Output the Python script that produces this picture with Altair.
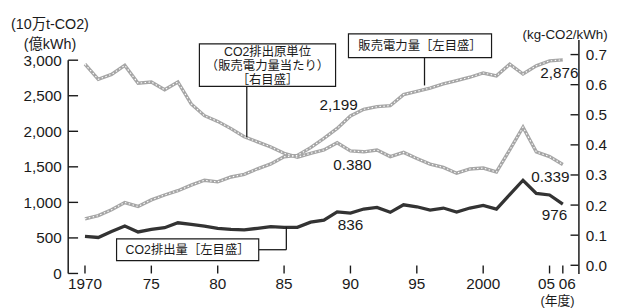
import altair as alt
import pandas as pd

# ---------------- data ----------------
years = list(range(1970, 2007))
# 販売電力量 (億kWh) – left axis
sales = [769, 814, 897, 998, 943, 1035, 1104, 1164, 1242, 1311,
         1288, 1357, 1394, 1472, 1541, 1642, 1660, 1770, 1900, 2040,
         2215, 2309, 2346, 2360, 2516, 2562, 2608, 2668, 2714, 2760,
         2820, 2780, 2944, 2806, 2921, 2990, 3005]
# CO2排出原単位 (kg-CO2/kWh) – right axis
intensity = [0.668, 0.618, 0.634, 0.664, 0.605, 0.609, 0.583, 0.609, 0.536, 0.497,
             0.478, 0.454, 0.427, 0.410, 0.393, 0.372, 0.359, 0.372, 0.383, 0.407,
             0.380, 0.377, 0.383, 0.361, 0.375, 0.355, 0.336, 0.325, 0.306, 0.320,
             0.323, 0.310, 0.383, 0.459, 0.377, 0.361, 0.335]
# CO2排出量 (10万t-CO2) – left axis
co2 = [520, 506, 590, 667, 584, 621, 644, 713, 690, 667,
       635, 621, 612, 635, 658, 649, 649, 722, 750, 865,
       850, 906, 929, 860, 966, 938, 892, 920, 865, 920,
       956, 906, 1110, 1311, 1127, 1104, 976]

left_ticks = [0, 500, 1000, 1500, 2000, 2500, 3000]
right_ticks = [0.0, 0.1, 0.2, 0.3, 0.4, 0.5, 0.6, 0.7]
x_ticks = [1970, 1975, 1980, 1985, 1990, 1995, 2000, 2005, 2006]
x_tick_labels = ["1970", "75", "80", "85", "90", "95", "2000", "05", "06"]
x_label_shift = [0, 0, 0, 0, 0, 0, 0, -3, 4.5]
x_unit_text = ["(年度)"]
x_unit_year = [2005.6]

# value callouts
left_lab_text = ["2,199", "2,876", "836", "976"]
left_lab_year = [1990, 2006, 1990, 2006]
left_lab_val = [2199, 2876, 836, 976]
right_lab_text = ["0.380", "0.339"]
right_lab_year = [1990, 2006]
right_lab_val = [0.380, 0.339]

# annotation boxes (in data space: years / left-axis units)
box_x1 = [1978.62, 1989.85, 1972.38]
box_x2 = [1988.88, 2000.63, 1983.09]
box_y1 = [3229, 3369, 487]
box_y2 = [2631, 3035, 181]
box_text = ["CO2排出原単位", "（販売電力量当たり）", "［右目盛］", "販売電力量［左目盛］", "CO2排出量［左目盛］"]
box_text_x = [1983.75, 1983.75, 1983.75, 1995.24, 1977.73]
box_text_y = [3116, 2922, 2727, 3202, 334]
lead_x1 = [1982.19, 1995.58, 1983.09, 1985.17]
lead_x2 = [1982.19, 1995.58, 1985.17, 1985.17]
lead_y1 = [2631, 3035, 334, 334]
lead_y2 = [1921, 2645, 334, 654]

# ---------------- tables ----------------
df = pd.DataFrame({"year": years, "sales": sales, "intensity": intensity, "co2": co2})
lt = pd.DataFrame({"v": left_ticks})
rt = pd.DataFrame({"v": right_ticks})
xt = pd.DataFrame({"year": x_ticks, "lab": x_tick_labels, "shift": x_label_shift})
xu = pd.DataFrame({"year": x_unit_year, "t": x_unit_text})
llab = pd.DataFrame({"t": left_lab_text, "year": left_lab_year, "v": left_lab_val})
rlab = pd.DataFrame({"t": right_lab_text, "year": right_lab_year, "v": right_lab_val})
boxes = pd.DataFrame({"x1": box_x1, "x2": box_x2, "y1": box_y1, "y2": box_y2})
btext = pd.DataFrame({"t": box_text, "x": box_text_x, "y": box_text_y})
leads = pd.DataFrame({"x1": lead_x1, "x2": lead_x2, "y1": lead_y1, "y2": lead_y2})
laxis = pd.DataFrame({"a": [3000], "b": [0]})

NUM = "Liberation Sans, Arial, sans-serif"
JP = "Liberation Sans, Noto Sans CJK JP, sans-serif"
INK = "#1a1a1a"
NUMSIZE = 15.5

W, H = 517, 237
xs = alt.Scale(domain=[1968.736, 2007.175], nice=False, zero=False)
ls = alt.Scale(domain=[0, 3290], nice=False, zero=False)
rs = alt.Scale(domain=[-0.0272, 0.7498], nice=False, zero=False)

x_axis = alt.Axis(
    values=x_ticks, orient="bottom", tickSize=0, domain=True, domainColor=INK, domainWidth=1.5,
    grid=False, labels=False, title=None,
)
left_axis = alt.Axis(
    values=left_ticks, orient="left", tickSize=0, domain=False, grid=False,
    labelExpr="datum.value >= 1000 ? (floor(datum.value / 1000) + ',' + substring('' + datum.value, 1)) : ('' + datum.value)",
    labelPadding=7, labelFont=NUM, labelFontSize=NUMSIZE, labelColor=INK,
    title=["(10万t-CO2)", "(億kWh)"], titleFont=JP, titleFontSize=14.5, titleFontWeight="normal",
    titleColor=INK, titleAngle=0, titleX=-19, titleY=-22, titleAlign="center",
    titleBaseline="top", titleLineHeight=20,
)
right_axis = alt.Axis(
    values=right_ticks, orient="right", format=".1f", tickSize=0, domain=True,
    domainColor=INK, domainWidth=1.5, grid=False,
    labelPadding=7, labelFont=NUM, labelFontSize=NUMSIZE, labelColor=INK,
    title="(kg-CO2/kWh)", titleFont=JP, titleFontSize=13.5, titleFontWeight="normal",
    titleColor=INK, titleAngle=0, titleX=-14, titleY=-5, titleAlign="center",
    titleBaseline="middle",
)


def X(field="year"):
    return alt.X(f"{field}:Q", scale=xs, axis=None)


base = alt.Chart(df)

sales_line = base.mark_line(color="#a6a6a6", strokeWidth=3.4).encode(
    x=X(), y=alt.Y("sales:Q", scale=ls, axis=left_axis),
)
int_line = base.mark_line(color="#a6a6a6", strokeWidth=3.4).encode(
    x=X(), y=alt.Y("intensity:Q", scale=rs, axis=right_axis),
)
sales_tex = base.mark_line(color="white", strokeWidth=1.1, strokeDash=[1.5, 2.5]).encode(
    x=X(), y=alt.Y("sales:Q", scale=ls, axis=None),
)
int_tex = base.mark_line(color="white", strokeWidth=1.1, strokeDash=[1.5, 2.5]).encode(
    x=X(), y=alt.Y("intensity:Q", scale=rs, axis=None),
)
co2_line = base.mark_line(color="#333333", strokeWidth=3.3).encode(
    x=X(), y=alt.Y("co2:Q", scale=ls, axis=None),
)

left_tick_marks = alt.Chart(lt).mark_rule(color=INK, strokeWidth=1.4).encode(
    x=alt.value(0), x2=alt.value(10), y=alt.Y("v:Q", scale=ls, axis=None),
)
right_tick_marks = alt.Chart(rt).mark_rule(color=INK, strokeWidth=1.4).encode(
    x=alt.value(W - 8), x2=alt.value(W), y=alt.Y("v:Q", scale=rs, axis=None),
)
x_tick_marks = alt.Chart(xt).mark_rule(color=INK, strokeWidth=1.4).encode(
    x=alt.X("year:Q", scale=xs, axis=x_axis), y=alt.value(H - 8), y2=alt.value(H),
)
x_tick_text = alt.Chart(xt).transform_calculate(
    xp="datum.year + datum.shift / 13.45"
).mark_text(font=NUM, fontSize=NUMSIZE, color=INK, baseline="top").encode(
    x=alt.X("xp:Q", scale=xs, axis=None), y=alt.value(H + 4), text="lab:N",
)
x_unit = alt.Chart(xu).mark_text(font=JP, fontSize=13, color=INK, baseline="middle").encode(
    x=alt.X("year:Q", scale=xs, axis=None), y=alt.value(H + 28), text="t:N",
)
left_axis_line = alt.Chart(laxis).mark_rule(color=INK, strokeWidth=1.5).encode(
    x=alt.value(0), y=alt.Y("a:Q", scale=ls, axis=None), y2="b:Q",
)

box_marks = alt.Chart(boxes).mark_rect(fill="white", stroke=INK, strokeWidth=1.2).encode(
    x=alt.X("x1:Q", scale=xs, axis=None), x2="x2:Q",
    y=alt.Y("y1:Q", scale=ls, axis=None), y2="y2:Q",
)
box_texts = alt.Chart(btext).mark_text(font=JP, fontSize=12.5, color=INK).encode(
    x=alt.X("x:Q", scale=xs, axis=None), y=alt.Y("y:Q", scale=ls, axis=None), text="t:N",
)
lead_marks = alt.Chart(leads).mark_rule(color=INK, strokeWidth=1.3).encode(
    x=alt.X("x1:Q", scale=xs, axis=None), x2="x2:Q",
    y=alt.Y("y1:Q", scale=ls, axis=None), y2="y2:Q",
)


def lab(df_, scale, dx, dy, idx):
    return alt.Chart(df_.iloc[[idx]]).mark_text(
        font=NUM, fontSize=NUMSIZE, color=INK, dx=dx, dy=dy
    ).encode(x=X(), y=alt.Y("v:Q", scale=scale, axis=None), text="t:N")


labels = [
    lab(llab, ls, -12, -12.5, 0),
    lab(llab, ls, -3.5, 4, 1),
    lab(llab, ls, 0, 11, 2),
    lab(llab, ls, -8.5, 11, 3),
    lab(rlab, rs, 2, 14, 0),
    lab(rlab, rs, -12.5, 14, 1),
]

chart = alt.layer(
    x_tick_marks,
    sales_line, int_line, co2_line, sales_tex, int_tex,
    lead_marks, box_marks, box_texts,
    left_tick_marks, right_tick_marks, left_axis_line,
    x_tick_text, x_unit,
    *labels,
).resolve_scale(y="independent").properties(
    width=W, height=H,
    padding={"left": 61, "top": 30, "right": 32, "bottom": 33},
    autosize=alt.AutoSizeParams(type="none"),
    background="white",
).configure_view(stroke=None)

chart.save("out.html", embed_options={"renderer": "svg", "actions": False})
